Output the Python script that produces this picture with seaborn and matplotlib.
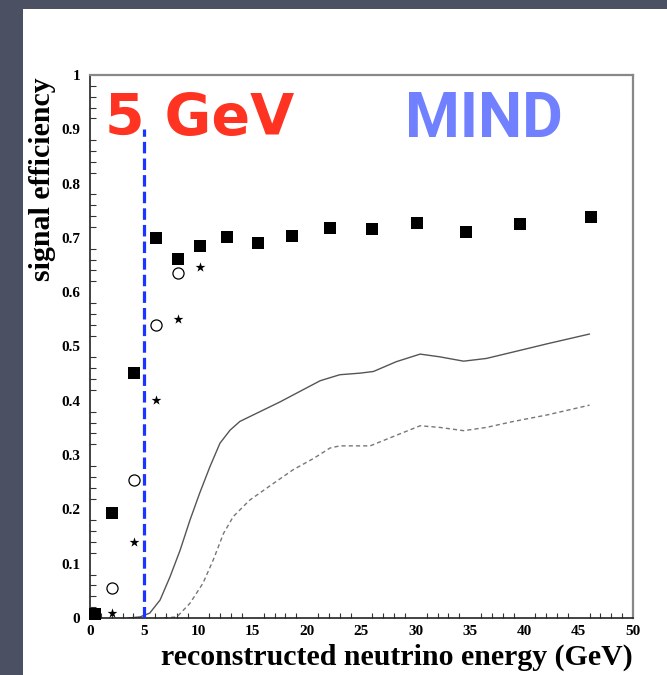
import numpy as np
import matplotlib
matplotlib.use("Agg")
import matplotlib.pyplot as plt
from matplotlib.ticker import MultipleLocator, FuncFormatter
import seaborn as sns
import pandas as pd

sns.set_theme(style="white")
plt.rcParams['font.family'] = ['Liberation Serif', 'DejaVu Serif']

# efficiency points (squares, open circles, stars)
e_sq = [0.5, 2.0, 4.05, 6.05, 8.1, 10.1, 12.6, 15.5, 18.6, 22.1, 26.0, 30.1, 34.6, 39.6, 46.1]
eff_sq = [0.008, 0.193, 0.452, 0.699, 0.661, 0.685, 0.702, 0.690, 0.704, 0.719, 0.716, 0.727, 0.711, 0.726, 0.738]

e_circ = [2.0, 4.05, 6.05, 8.1]
eff_circ = [0.055, 0.255, 0.540, 0.636]

e_star = [2.0, 4.05, 6.05, 8.1, 10.1]
eff_star = [0.009, 0.140, 0.401, 0.550, 0.646]

# solid curve
e_solid = [3.5, 4.6, 5.5, 6.45, 7.37, 8.3, 9.2, 10.1, 11.05, 11.97, 12.9, 13.8, 15.65,
           17.5, 19.3, 21.2, 23.0, 24.9, 26.1, 28.2, 30.4, 32.2, 34.4, 36.5, 39.0,
           42.1, 46.0]
eff_solid = [0.0, 0.002, 0.009, 0.033, 0.076, 0.125, 0.180, 0.230, 0.279, 0.322, 0.346,
             0.362, 0.380, 0.398, 0.417, 0.437, 0.448, 0.451, 0.454, 0.472, 0.486, 0.481,
             0.473, 0.478, 0.490, 0.505, 0.523]

# dashed curve
e_dash = [6.8, 8.0, 9.2, 10.4, 11.35, 12.3, 13.2, 14.7, 16.9, 18.7, 20.6, 22.1, 23.0,
          25.8, 27.9, 30.4, 32.2, 34.4, 36.5, 39.0, 42.1, 46.0]
eff_dash = [0.0, 0.002, 0.027, 0.064, 0.107, 0.156, 0.187, 0.217, 0.248, 0.273, 0.294,
            0.313, 0.317, 0.317, 0.334, 0.354, 0.351, 0.345, 0.351, 0.362, 0.374, 0.392]

cut_energy = 5
cut_top = 0.9

fig = plt.figure(figsize=(6.67, 6.75), dpi=100)
fig.patch.set_facecolor('#4b5162')

# white slide panel behind the plot
bg = fig.add_axes([23 / 667, 0, 1 - 23 / 667, (675 - 9) / 675], zorder=-1)
bg.set_facecolor('white')
bg.axis('off')
bg.add_patch(plt.Rectangle((0, 0), 1, 1, transform=bg.transAxes, color='white'))

ax = fig.add_axes([90 / 667, 57 / 675, 543 / 667, 543 / 675], zorder=1)
ax.set_facecolor('white')

df_solid = pd.DataFrame({'E': e_solid, 'eff': eff_solid})
df_dash = pd.DataFrame({'E': e_dash, 'eff': eff_dash})

sns.lineplot(data=df_solid, x='E', y='eff', ax=ax, color='#555555', lw=1.0,
             estimator=None, sort=False)
sns.lineplot(data=df_dash, x='E', y='eff', ax=ax, color='#777777', lw=1.0,
             estimator=None, sort=False, linestyle=(0, (3, 2.2)))

sns.scatterplot(x=e_circ, y=eff_circ, ax=ax, marker='o', s=64, facecolor='white',
                edgecolor='black', linewidth=0.9, zorder=3)
sns.scatterplot(x=e_star, y=eff_star, ax=ax, marker='*', s=55, color='black',
                edgecolor='black', linewidth=0, zorder=4)
sns.scatterplot(x=e_sq, y=eff_sq, ax=ax, marker='s', s=66, color='black',
                edgecolor='black', linewidth=0, zorder=5, clip_on=False)

ax.plot([cut_energy, cut_energy], [0, cut_top], color='#1a35ff', lw=2.3,
        linestyle=(0, (3.6, 1.6)), zorder=6)

ax.set_xlim(0, 50)
ax.set_ylim(0, 1)
ax.xaxis.set_major_locator(MultipleLocator(5))
ax.xaxis.set_minor_locator(MultipleLocator(1))
ax.yaxis.set_major_locator(MultipleLocator(0.1))
ax.yaxis.set_minor_locator(MultipleLocator(0.02))
ax.yaxis.set_major_formatter(FuncFormatter(lambda v, p: f"{v:.1f}".rstrip('0').rstrip('.') if v else "0"))

ax.tick_params(axis='both', which='both', direction='in', top=False, right=False,
               colors='#333333', labelcolor='black', labelsize=11)
ax.tick_params(axis='y', which='major', length=9, width=1.0, pad=7)
ax.tick_params(axis='y', which='minor', length=4.5, width=0.8, left=True)
ax.tick_params(axis='x', which='major', length=7, width=1.0, pad=5)
ax.tick_params(axis='x', which='minor', length=3.5, width=0.8, bottom=True)
for lab in ax.get_xticklabels() + ax.get_yticklabels():
    lab.set_fontweight('bold')

for side in ['left', 'bottom']:
    ax.spines[side].set_color('#222222')
    ax.spines[side].set_linewidth(1.2)
for side in ['top', 'right']:
    ax.spines[side].set_color('#888888')
    ax.spines[side].set_linewidth(1.6)

ax.set_xlabel('reconstructed neutrino energy (GeV)', fontsize=21.5, fontweight='bold',
              color='black')
ax.xaxis.set_label_coords(1.0, -0.048)
ax.xaxis.label.set_horizontalalignment('right')
ax.set_ylabel('signal efficiency', fontsize=21.5, fontweight='bold', color='black')
ax.yaxis.set_label_coords(-0.063, 0.995)
ax.yaxis.label.set_verticalalignment('bottom')
ax.yaxis.label.set_horizontalalignment('right')

ax.text(1.38, 0.89, '5 GeV', color='#ff3322', fontsize=41, fontweight='bold',
        family=['DejaVu Sans'], ha='left', va='baseline')
ax.text(29.0, 0.886, 'MIND', color='#7080ff', fontsize=45, fontweight='bold',
        family=['Roboto', 'DejaVu Sans'], ha='left', va='baseline')

fig.savefig('out.png', dpi=100, facecolor=fig.get_facecolor())
